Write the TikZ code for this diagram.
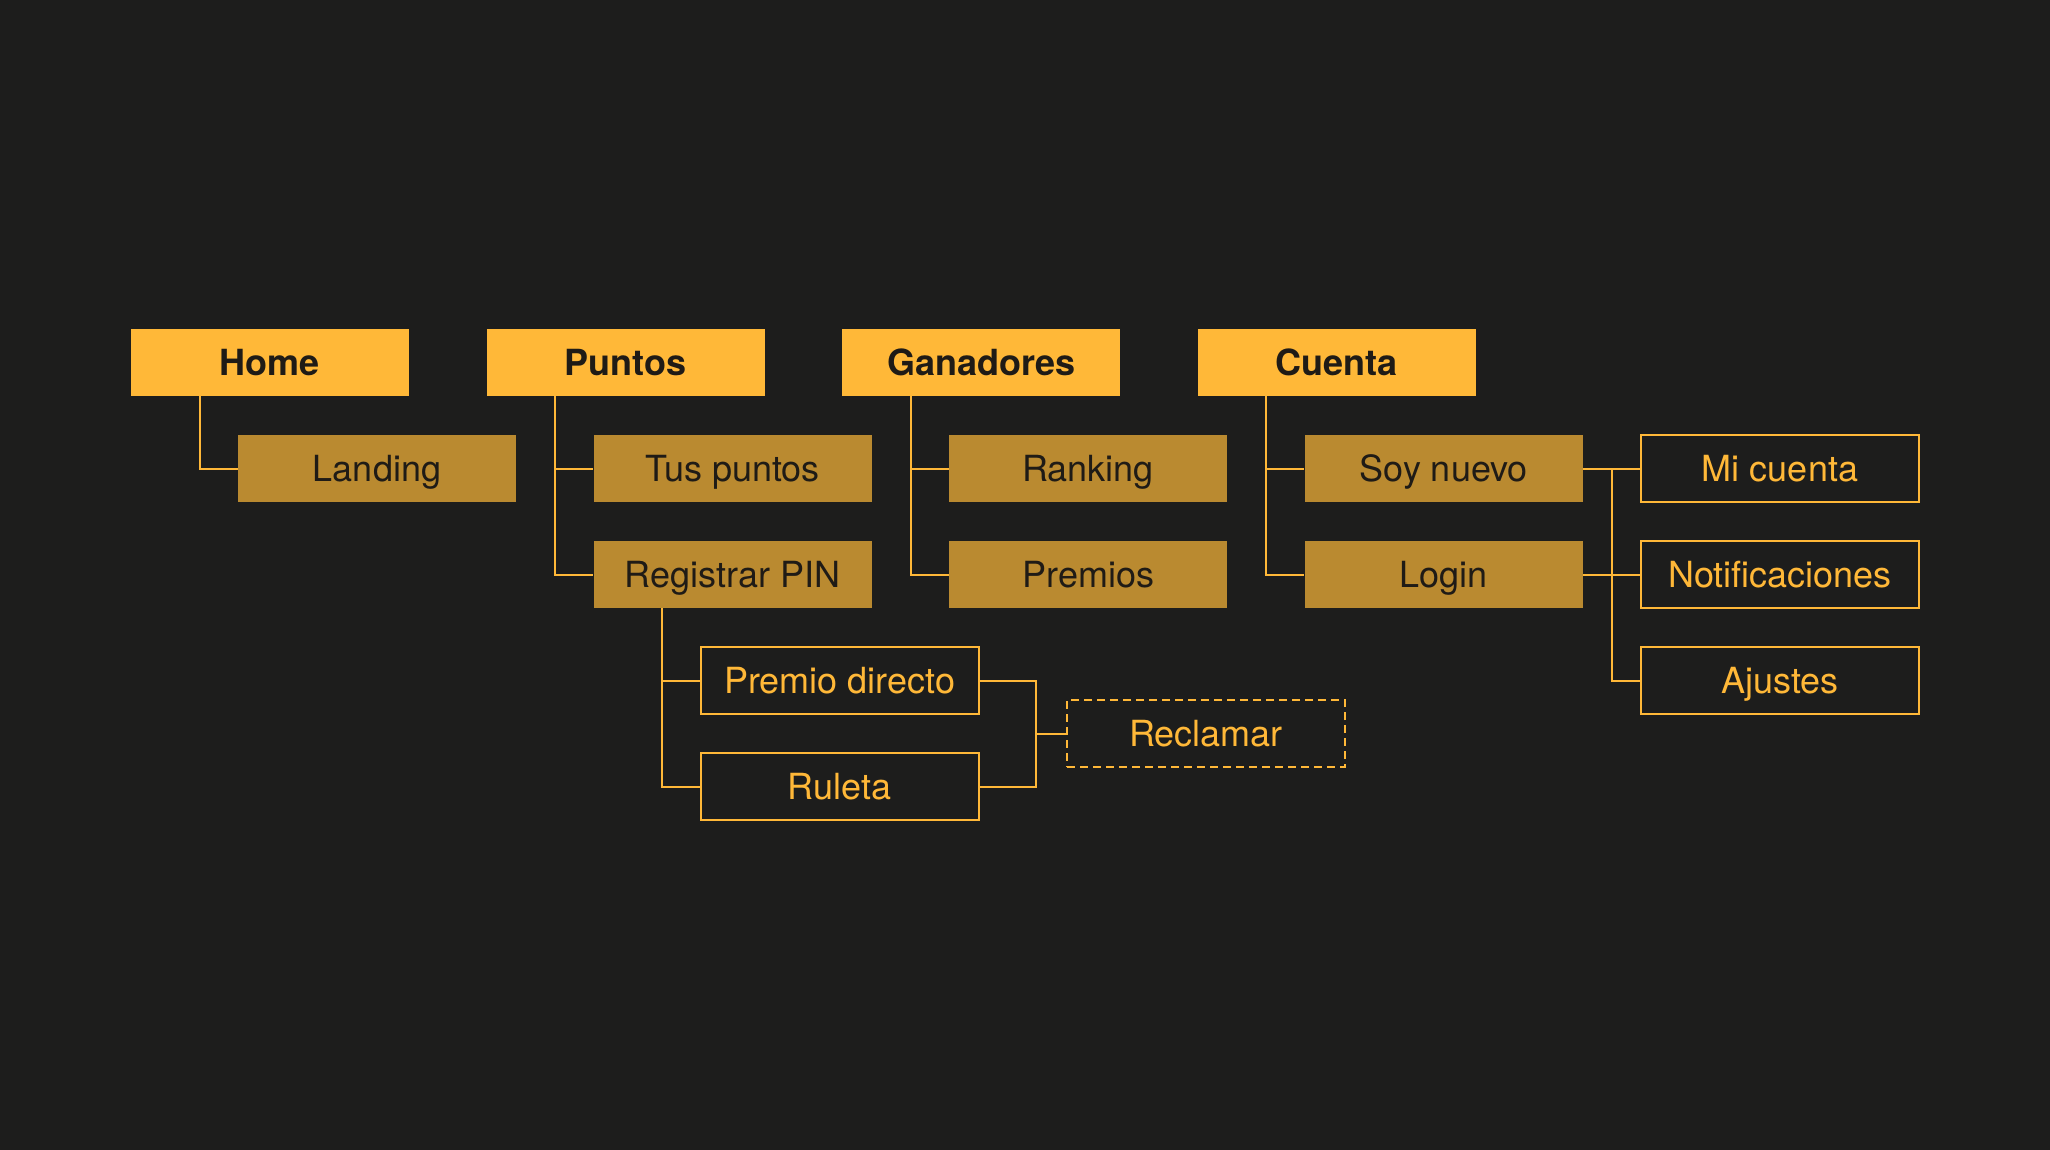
\documentclass[tikz,border=0pt]{standalone}
\usepackage{fontspec}
\setmainfont{TeX Gyre Heros}
\definecolor{canvas}{RGB}{29, 29, 28}
\definecolor{gold}{RGB}{255, 184, 56}
\definecolor{goldmid}{RGB}{186, 138, 48}
\definecolor{ink}{RGB}{31, 27, 22}

\begin{document}
\begin{tikzpicture}[
    x=0.5pt, y=-0.5pt,
    base/.style = {minimum width=139pt, minimum height=33.5pt, inner sep=0pt,
                   font=\fontsize{18}{22}\selectfont, text height=14.5pt, text depth=2pt},
    top/.style  = {base, fill=gold, text=ink, font=\fontsize{18}{22}\selectfont\bfseries},
    sub/.style  = {base, fill=goldmid, text=ink},
    leaf/.style = {base, draw=gold, line width=1.1pt, text=gold},
    ghost/.style= {leaf, dash pattern=on 4pt off 2.5pt},
    link/.style = {draw=gold, line width=1pt},
  ]
    \def\cx{355.6}  % column step
    \def\rs{106}    % row spacing
    \def\dx{107}    % child indent
    \def\ty{362.5}  % top row

    \fill[canvas] (0,0) rectangle (2050,1150);
    \useasboundingbox (0,0) rectangle (2050,1150);

    % ── Top level ──
    \node[top] (home) at (270, \ty)         {Home};
    \node[top] (pts)  at (270+\cx, \ty)     {Puntos};
    \node[top] (gan)  at (270+2*\cx, \ty)   {Ganadores};
    \node[top] (cta)  at (270+3*\cx, \ty)   {Cuenta};

    % ── Second level ──
    \node[sub] (land) at (270+\dx, \ty+\rs)          {Landing};
    \node[sub] (tus)  at (270+\cx+\dx, \ty+\rs)      {Tus puntos};
    \node[sub] (pin)  at (270+\cx+\dx, \ty+2*\rs)    {Registrar PIN};
    \node[sub] (rank) at (270+2*\cx+\dx, \ty+\rs)    {Ranking};
    \node[sub] (prem) at (270+2*\cx+\dx, \ty+2*\rs)  {Premios};
    \node[sub] (soy)  at (270+3*\cx+\dx, \ty+\rs)    {Soy nuevo};
    \node[sub] (log)  at (270+3*\cx+\dx, \ty+2*\rs)  {Login};

    % ── Third level ──
    \node[leaf] (pdir) at (270+\cx+2*\dx, \ty+3*\rs) {Premio directo};
    \node[leaf] (rul)  at (270+\cx+2*\dx, \ty+4*\rs) {Ruleta};
    \node[ghost] (recl) at (1206, \ty+3.5*\rs)       {Reclamar};
    \node[leaf] (mic)  at (1780, \ty+\rs)            {Mi cuenta};
    \node[leaf] (noti) at (1780, \ty+2*\rs)          {Notificaciones};
    \node[leaf] (ajus) at (1780, \ty+3*\rs)          {Ajustes};

    % ── Links ──
    \draw[link] ([xshift=34.5pt]home.south west) |- (land.west);
    \draw[link] ([xshift=34.5pt]pts.south west) |- (tus.west);
    \draw[link] ([xshift=34.5pt]pts.south west) |- (pin.west);
    \draw[link] ([xshift=34.5pt]gan.south west) |- (rank.west);
    \draw[link] ([xshift=34.5pt]gan.south west) |- (prem.west);
    \draw[link] ([xshift=34.5pt]cta.south west) |- (soy.west);
    \draw[link] ([xshift=34.5pt]cta.south west) |- (log.west);
    \draw[link] ([xshift=34.5pt]pin.south west) |- (pdir.west);
    \draw[link] ([xshift=34.5pt]pin.south west) |- (rul.west);
    \draw[link] (pdir.east) -- ++(28pt,0) |- (recl.west);
    \draw[link] (rul.east) -- ++(28pt,0) |- (recl.west);
    \draw[link] (soy.east) -- (mic.west);
    \draw[link] (log.east) -- (noti.west);
    \draw[link] ([xshift=14.5pt]soy.east) |- (ajus.west);
  \end{tikzpicture}
\end{document}
